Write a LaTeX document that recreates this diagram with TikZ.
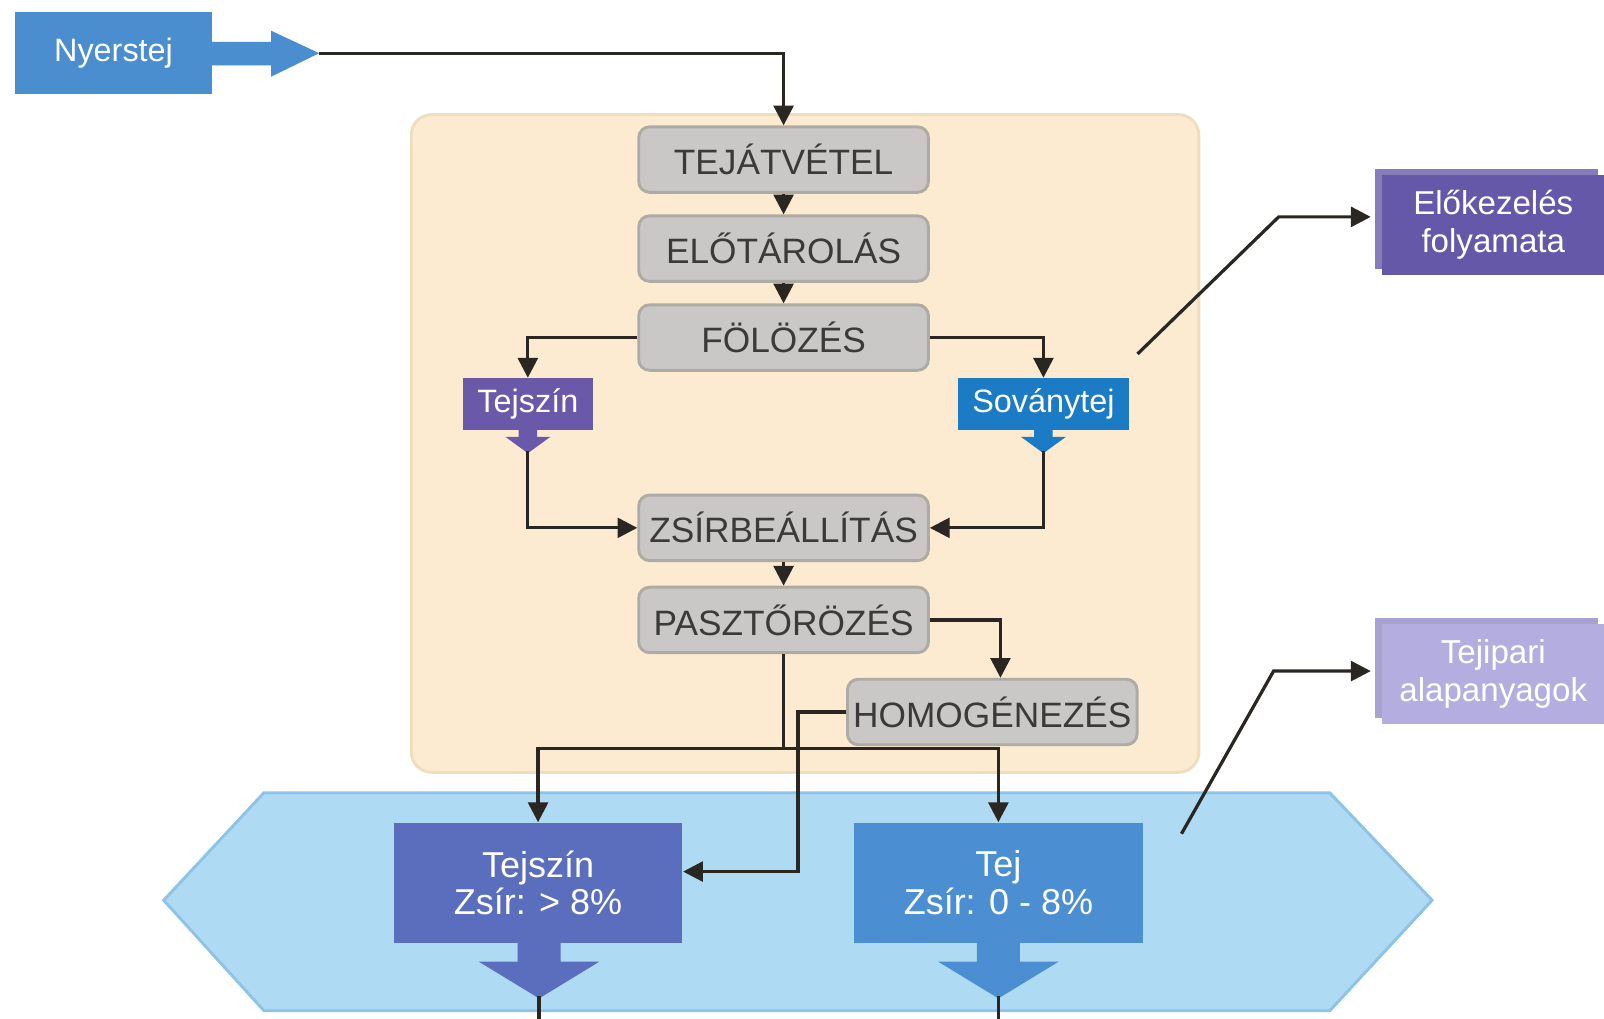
\documentclass[tikz,border=0pt]{standalone}
\usepackage{fontspec}
\setmainfont{Liberation Sans}
\usetikzlibrary{arrows.meta,calc}

\definecolor{beige}{HTML}{FCEBD0}
\definecolor{beigeline}{HTML}{EEDDBF}
\definecolor{procfill}{HTML}{C9C8C6}
\definecolor{procline}{HTML}{AEAAA4}
\definecolor{proctext}{HTML}{3A3A3A}
\definecolor{flowline}{HTML}{2A2622}
\definecolor{rawblue}{HTML}{4A8ED0}
\definecolor{creampurple}{HTML}{6A58A8}
\definecolor{skimblue}{HTML}{1B7BC4}
\definecolor{hexfill}{HTML}{AEDAF3}
\definecolor{hexline}{HTML}{8CC3E6}
\definecolor{creamout}{HTML}{5B6EBE}
\definecolor{milkout}{HTML}{4B8FD2}
\definecolor{prepurple}{HTML}{6558A8}
\definecolor{prepurpleback}{HTML}{857CB8}
\definecolor{baselav}{HTML}{B4AEE0}
\definecolor{baselavback}{HTML}{A7A2CF}

\begin{document}
\begin{tikzpicture}[x=0.01cm,y=-0.01cm,
  proc/.style={draw=procline, fill=procfill, rounded corners=3pt, line width=0.8pt,
    minimum width=2.83cm, minimum height=0.64cm, text=proctext,
    font=\fontsize{9.8}{12}\selectfont, inner sep=0pt},
  colbox/.style={minimum width=#1, text=white, inner sep=0pt, align=center},
  flow/.style={draw=flowline, line width=0.9pt, -{Triangle[length=5.5pt,width=5.5pt]}},
  link/.style={draw=flowline, line width=0.9pt},
  txtnine/.style={font=\fontsize{9}{10.5}\selectfont},
  txtside/.style={font=\fontsize{9.2}{10.5}\selectfont},
  txtten/.style={font=\fontsize{10}{10.5}\selectfont}
]
\useasboundingbox (0,0) rectangle (1568,996);

% background areas
\draw[draw=beigeline, fill=beige, line width=0.8pt, rounded corners=0.2cm]
  (402,112) rectangle (1172,755);
\draw[draw=hexline, fill=hexfill, line width=0.8pt]
  (160,880) -- (258,775) -- (1300,775) -- (1400,880) -- (1300,988) -- (258,988) -- cycle;

% raw milk input
\node[colbox=1.92cm, fill=rawblue, minimum height=0.80cm, txtnine] (nyer) at (111,52) {Nyerstej};
\fill[rawblue] (207,41) -- (265,41) -- (265,30) -- (312,52) -- (265,75) -- (265,64) -- (207,64) -- cycle;
\coordinate (nyertip) at (312,52);

% process steps
\node[proc] (tej)   at (766,156) {TEJÁTVÉTEL};
\node[proc] (elo)   at (766,243) {ELŐTÁROLÁS};
\node[proc] (fol)   at (766,330) {FÖLÖZÉS};
\node[proc] (zsir)  at (766,516) {ZSÍRBEÁLLÍTÁS};
\node[proc] (paszt) at (766,606) {PASZTŐRÖZÉS};
\node[proc] (homo)  at (970,696) {HOMOGÉNEZÉS};

% separated streams
\node[colbox=1.27cm, fill=creampurple, minimum height=0.50cm, txtnine] (tsz) at (516,395) {Tejszín};
\node[colbox=1.67cm, fill=skimblue, minimum height=0.50cm, txtnine] (sov) at (1020,395) {Soványtej};
\fill[creampurple] (507,420) -- (525,420) -- (525,427) -- (538,427) -- (516,443) -- (494,427) -- (507,427) -- cycle;
\coordinate (tsztip) at (516,441);
\fill[skimblue] (1011,420) -- (1029,420) -- (1029,427) -- (1042,427) -- (1020,443) -- (998,427) -- (1011,427) -- cycle;
\coordinate (sovtip) at (1020,441);

% products
\node[colbox=2.82cm, fill=creamout, minimum height=1.17cm, txtten] (tszb) at (526,863) {Tejszín\\Zsír: > 8\%};
\node[colbox=2.82cm, fill=milkout, minimum height=1.17cm, txtten] (tejb) at (976,863) {Tej\\Zsír: 0 - 8\%};
\fill[creamout] (506,922) -- (548,922) -- (548,940) -- (586,940) -- (527,976) -- (468,940) -- (506,940) -- cycle;
\fill[milkout] (955,922) -- (997,922) -- (997,940) -- (1035,940) -- (976,976) -- (917,940) -- (955,940) -- cycle;
\coordinate (tszbtip) at (527,974);
\coordinate (tejbtip) at (976,974);
\coordinate (tszbend) at (527,996);
\coordinate (tejbend) at (976,996);

% side labels
\fill[prepurpleback] (1344,165) rectangle (1562,263);
\node[colbox=2.18cm, fill=prepurple, minimum height=0.98cm, txtside, anchor=north west]
  (elok) at (1350,170) {Előkezelés\\folyamata};
\fill[baselavback] (1344,604) rectangle (1562,702);
\node[colbox=2.18cm, fill=baselav, minimum height=0.98cm, txtside, anchor=north west]
  (alap) at (1350,609) {Tejipari\\alapanyagok};

% connectors
\draw[flow] (nyertip) -| (tej.north);
\draw[flow] (tej) -- (elo);
\draw[flow] (elo) -- (fol);
\draw[flow] (fol.west) -| (tsz.north);
\draw[flow] (fol.east) -| (sov.north);
\draw[flow] (tsztip) |- (zsir.west);
\draw[flow] (sovtip) |- (zsir.east);
\draw[flow] (zsir) -- (paszt);
\draw[flow] (paszt.east) -| ($(homo.north)+(8,0)$);

\coordinate (join) at (766,732);
\draw[link] (paszt.south) -- (join);
\draw[flow] (join) -| (tszb.north);
\draw[flow] (join) -| (tejb.north);

\coordinate (hbend) at (780,852);
\draw[flow] (homo.west) -| (hbend) -- (hbend -| tszb.east);

\draw[link] (tszbtip) -- (tszbend);
\draw[link] (tejbtip) -- (tejbend);

\coordinate (sovcorner) at (1112,346);
\coordinate (prebend) at (1250,212);
\draw[flow, shorten >=1mm] (sovcorner) -- (prebend) -- (prebend -| elok.west);
\coordinate (hexcorner) at (1155,815);
\coordinate (basebend) at (1245,656);
\draw[flow, shorten >=1mm] (hexcorner) -- (basebend) -- (basebend -| alap.west);
\end{tikzpicture}
\end{document}
